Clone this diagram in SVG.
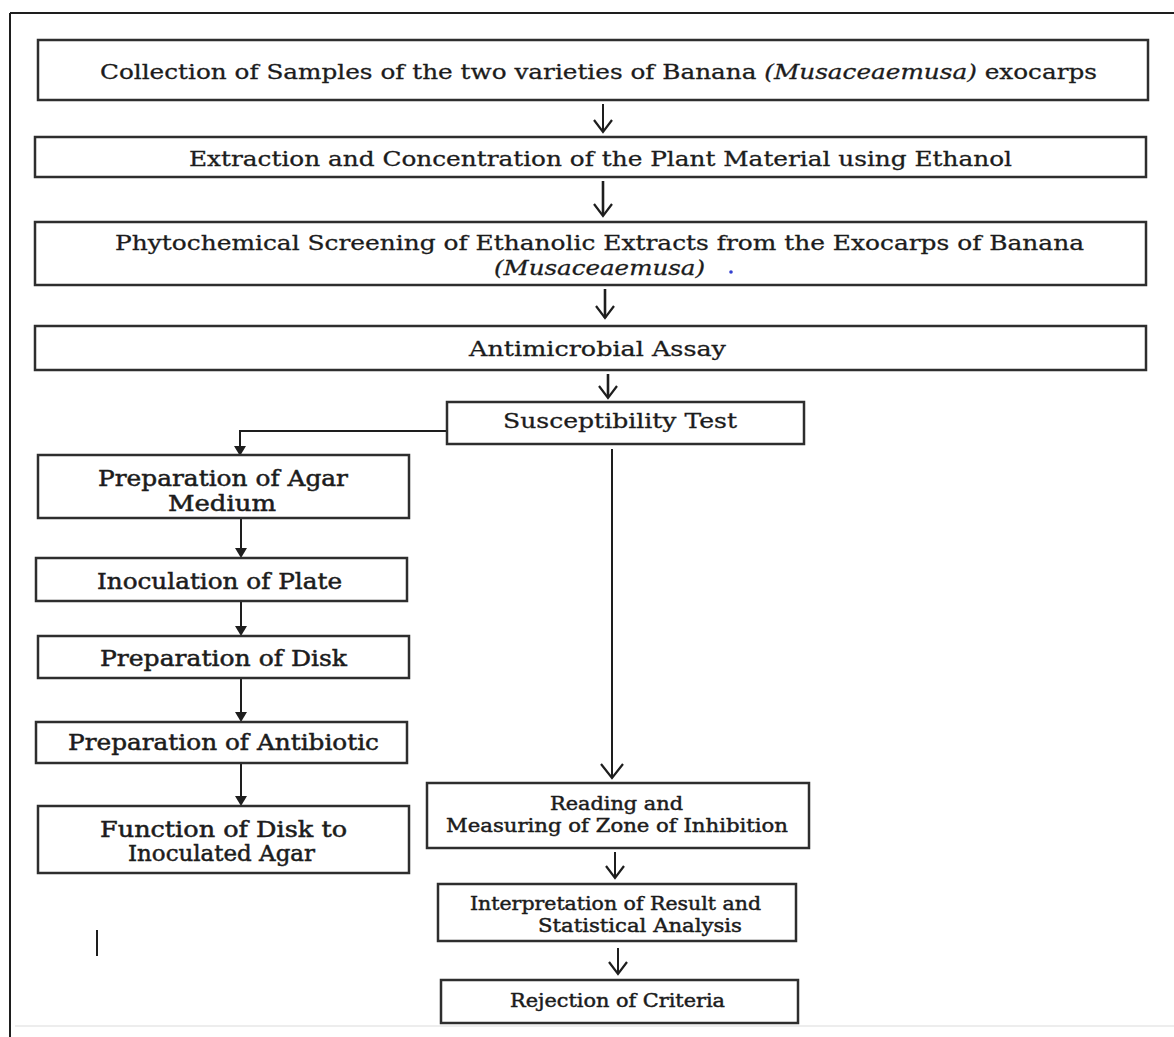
<svg xmlns="http://www.w3.org/2000/svg" width="1174" height="1037" viewBox="0 0 1174 1037">
<style>
  .box { fill: #ffffff; stroke: #2e2e2e; stroke-width: 2.5; }
  .t { font-family: "DejaVu Serif", "Liberation Serif", serif; fill: #1c1c1c; stroke: #1c1c1c; stroke-width: 0.3; }
  .top { font-size: 20px; }
  .left { font-size: 22px; stroke-width: 0.5; }
  .low { font-size: 18px; stroke-width: 0.45; }
  .it { font-style: italic; }
  .ln { fill: none; stroke: #1e1e1e; stroke-width: 2; }
  .thick { stroke-width: 2.6; }
  .head { fill: none; stroke: #1e1e1e; stroke-width: 2.2; stroke-linejoin: miter; }
  .tri { fill: #1e1e1e; stroke: none; }
</style>
<rect width="1174" height="1037" fill="#ffffff"/>
<g id="frame">
  <path d="M10,13 H1174" class="ln" stroke-width="2"/>
  <path d="M10,13 V1037" class="ln" stroke-width="3"/>
  <path d="M15,1026 H1174" fill="none" stroke="#ededed" stroke-width="2"/>
  <path d="M97,930 V956" class="ln" stroke-width="2.5"/>
</g>
<g id="connectors">
  <path d="M603,104 V131" class="ln" stroke-width="1.6"/>
  <path d="M594,120 L603,132 L612,120" class="head" stroke-width="1.8"/>
  <path d="M603,181 V215" class="ln thick"/>
  <path d="M594,204 L603,216 L612,204" class="head"/>
  <path d="M605,289 V318" class="ln thick"/>
  <path d="M596,306 L605,318 L614,306" class="head"/>
  <path d="M608,374 V397" class="ln thick"/>
  <path d="M599,386 L608,398 L617,386" class="head"/>
  <path d="M447,431 H240 V447" class="ln"/>
  <path d="M234,446 L246,446 L240,456 Z" class="tri"/>
  <path d="M612,449 V777" class="ln"/>
  <path d="M601,764 L612,778 L623,764" class="head"/>
  <path d="M241,518 V550" class="ln"/>
  <path d="M235,548 L247,548 L241,558 Z" class="tri"/>
  <path d="M241,601 V628" class="ln"/>
  <path d="M235,626 L247,626 L241,636 Z" class="tri"/>
  <path d="M241,678 V714" class="ln"/>
  <path d="M235,712 L247,712 L241,722 Z" class="tri"/>
  <path d="M241,763 V798" class="ln"/>
  <path d="M235,796 L247,796 L241,806 Z" class="tri"/>
  <path d="M615,852 V877" class="ln"/>
  <path d="M606,866 L615,878 L624,866" class="head"/>
  <path d="M618,948 V973" class="ln"/>
  <path d="M609,962 L618,974 L627,962" class="head"/>
</g>
<g id="n1">
  <rect class="box" x="38" y="40" width="1110" height="60"/>
  <text class="t top" x="100" y="79" textLength="997" lengthAdjust="spacingAndGlyphs">Collection of Samples of the two varieties of Banana <tspan class="it">(Musaceaemusa)</tspan> exocarps</text>
</g>
<g id="n2">
  <rect class="box" x="35" y="137" width="1111" height="40"/>
  <text class="t top" x="189" y="166" textLength="823" lengthAdjust="spacingAndGlyphs">Extraction and Concentration of the Plant Material using Ethanol</text>
</g>
<g id="n3">
  <rect class="box" x="35" y="222" width="1111" height="63"/>
  <text class="t top" x="115" y="250" textLength="969" lengthAdjust="spacingAndGlyphs">Phytochemical Screening of Ethanolic Extracts from the Exocarps of Banana</text>
  <text class="t top it" x="494" y="275" textLength="211" lengthAdjust="spacingAndGlyphs">(Musaceaemusa)</text>
  <circle cx="731" cy="272" r="1.8" fill="#3340d0"/>
</g>
<g id="n4">
  <rect class="box" x="35" y="326" width="1111" height="44"/>
  <text class="t top" x="469" y="356" textLength="257" lengthAdjust="spacingAndGlyphs">Antimicrobial Assay</text>
</g>
<g id="n5">
  <rect class="box" x="447" y="402" width="357" height="42"/>
  <text class="t top" x="503" y="428" textLength="234" lengthAdjust="spacingAndGlyphs">Susceptibility Test</text>
</g>
<g id="n6">
  <rect class="box" x="38" y="455" width="371" height="63"/>
  <text class="t left" x="98" y="486" textLength="250" lengthAdjust="spacingAndGlyphs">Preparation of Agar</text>
  <text class="t left" x="168" y="511" textLength="108" lengthAdjust="spacingAndGlyphs">Medium</text>
</g>
<g id="n7">
  <rect class="box" x="36" y="558" width="371" height="43"/>
  <text class="t left" x="97" y="589" textLength="245" lengthAdjust="spacingAndGlyphs">Inoculation of Plate</text>
</g>
<g id="n8">
  <rect class="box" x="38" y="636" width="371" height="42"/>
  <text class="t left" x="100" y="666" textLength="247" lengthAdjust="spacingAndGlyphs">Preparation of Disk</text>
</g>
<g id="n9">
  <rect class="box" x="36" y="722" width="371" height="41"/>
  <text class="t left" x="68" y="750" textLength="311" lengthAdjust="spacingAndGlyphs">Preparation of Antibiotic</text>
</g>
<g id="n10">
  <rect class="box" x="38" y="806" width="371" height="67"/>
  <text class="t left" x="100" y="837" textLength="247" lengthAdjust="spacingAndGlyphs">Function of Disk to</text>
  <text class="t left" x="128" y="861" textLength="187" lengthAdjust="spacingAndGlyphs">Inoculated Agar</text>
</g>
<g id="n11">
  <rect class="box" x="427" y="783" width="382" height="65"/>
  <text class="t low" x="550" y="810" textLength="133" lengthAdjust="spacingAndGlyphs">Reading and</text>
  <text class="t low" x="446" y="832" textLength="342" lengthAdjust="spacingAndGlyphs">Measuring of Zone of Inhibition</text>
</g>
<g id="n12">
  <rect class="box" x="438" y="884" width="358" height="57"/>
  <text class="t low" x="470" y="910" textLength="291" lengthAdjust="spacingAndGlyphs">Interpretation of Result and</text>
  <text class="t low" x="538" y="932" textLength="204" lengthAdjust="spacingAndGlyphs">Statistical Analysis</text>
</g>
<g id="n13">
  <rect class="box" x="441" y="980" width="357" height="43"/>
  <text class="t low" x="510" y="1007" textLength="215" lengthAdjust="spacingAndGlyphs">Rejection of Criteria</text>
</g>
</svg>
